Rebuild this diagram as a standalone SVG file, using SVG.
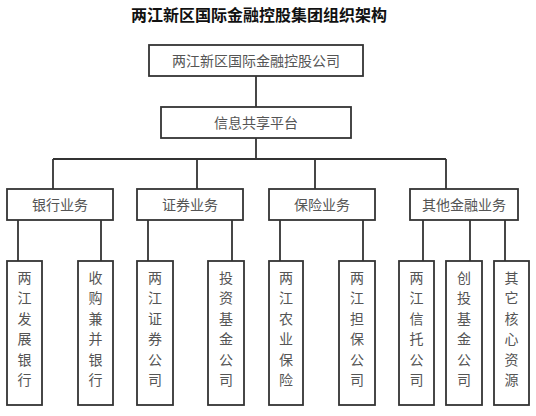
<svg xmlns="http://www.w3.org/2000/svg" width="536" height="416" viewBox="0 0 536 416">
<style>
.box{fill:#fff;stroke:#333;stroke-width:1.8}
.ln{fill:none;stroke:#333;stroke-width:1.8}
.t{font-family:"Liberation Serif","Noto Sans CJK SC",serif;font-size:14px;fill:#555;text-anchor:middle}
.title{font-family:"Liberation Sans","Noto Sans CJK SC",sans-serif;font-size:16px;font-weight:bold;fill:#111;text-anchor:middle}
</style>
<rect width="536" height="416" fill="#fff"/>
<text class="title" x="259" y="21">两江新区国际金融控股集团组织架构</text>
<g id="connectors">
<path class="ln" d="M256 76V107M256 138V159M53 159H446M53 159V189M197 159V189M315 159V189M446 159V189"/>
<path class="ln" d="M18 220V261M101 220V261M148 220V261M232 220V261M280 220V261M363 220V261M423 220V261M470 220V261M505 220V261"/>
</g>
<g id="n-root"><rect class="box" x="149" y="45" width="214" height="31"/><text class="t" x="256" y="66">两江新区国际金融控股公司</text></g>
<g id="n-platform"><rect class="box" x="161" y="107" width="190" height="31"/><text class="t" x="256" y="127.5">信息共享平台</text></g>
<g id="n-bank"><rect class="box" x="7" y="189" width="106" height="31"/><text class="t" x="60" y="210">银行业务</text></g>
<g id="n-sec"><rect class="box" x="137" y="189" width="106" height="31"/><text class="t" x="190" y="210">证券业务</text></g>
<g id="n-ins"><rect class="box" x="269" y="189" width="106" height="31"/><text class="t" x="322" y="210">保险业务</text></g>
<g id="n-other"><rect class="box" x="410" y="189" width="108" height="31"/><text class="t" x="464" y="210">其他金融业务</text></g>
<g id="l1"><rect class="box" x="7" y="261" width="35" height="144"/><text class="t" x="24.5" y="283"><tspan x="24.5">两</tspan><tspan x="24.5" dy="20.4">江</tspan><tspan x="24.5" dy="20.4">发</tspan><tspan x="24.5" dy="20.4">展</tspan><tspan x="24.5" dy="20.4">银</tspan><tspan x="24.5" dy="20.4">行</tspan></text></g>
<g id="l2"><rect class="box" x="78" y="261" width="35" height="144"/><text class="t" x="95.5" y="283"><tspan x="95.5">收</tspan><tspan x="95.5" dy="20.4">购</tspan><tspan x="95.5" dy="20.4">兼</tspan><tspan x="95.5" dy="20.4">并</tspan><tspan x="95.5" dy="20.4">银</tspan><tspan x="95.5" dy="20.4">行</tspan></text></g>
<g id="l3"><rect class="box" x="137" y="261" width="36" height="144"/><text class="t" x="155" y="283"><tspan x="155">两</tspan><tspan x="155" dy="20.4">江</tspan><tspan x="155" dy="20.4">证</tspan><tspan x="155" dy="20.4">券</tspan><tspan x="155" dy="20.4">公</tspan><tspan x="155" dy="20.4">司</tspan></text></g>
<g id="l4"><rect class="box" x="208" y="261" width="36" height="144"/><text class="t" x="226" y="283"><tspan x="226">投</tspan><tspan x="226" dy="20.4">资</tspan><tspan x="226" dy="20.4">基</tspan><tspan x="226" dy="20.4">金</tspan><tspan x="226" dy="20.4">公</tspan><tspan x="226" dy="20.4">司</tspan></text></g>
<g id="l5"><rect class="box" x="269" y="261" width="34" height="144"/><text class="t" x="286" y="283"><tspan x="286">两</tspan><tspan x="286" dy="20.4">江</tspan><tspan x="286" dy="20.4">农</tspan><tspan x="286" dy="20.4">业</tspan><tspan x="286" dy="20.4">保</tspan><tspan x="286" dy="20.4">险</tspan></text></g>
<g id="l6"><rect class="box" x="339" y="261" width="36" height="144"/><text class="t" x="357" y="283"><tspan x="357">两</tspan><tspan x="357" dy="20.4">江</tspan><tspan x="357" dy="20.4">担</tspan><tspan x="357" dy="20.4">保</tspan><tspan x="357" dy="20.4">公</tspan><tspan x="357" dy="20.4">司</tspan></text></g>
<g id="l7"><rect class="box" x="399" y="261" width="35" height="144"/><text class="t" x="416.5" y="283"><tspan x="416.5">两</tspan><tspan x="416.5" dy="20.4">江</tspan><tspan x="416.5" dy="20.4">信</tspan><tspan x="416.5" dy="20.4">托</tspan><tspan x="416.5" dy="20.4">公</tspan><tspan x="416.5" dy="20.4">司</tspan></text></g>
<g id="l8"><rect class="box" x="446" y="261" width="36" height="144"/><text class="t" x="464" y="283"><tspan x="464">创</tspan><tspan x="464" dy="20.4">投</tspan><tspan x="464" dy="20.4">基</tspan><tspan x="464" dy="20.4">金</tspan><tspan x="464" dy="20.4">公</tspan><tspan x="464" dy="20.4">司</tspan></text></g>
<g id="l9"><rect class="box" x="494" y="261" width="35" height="144"/><text class="t" x="511.5" y="283"><tspan x="511.5">其</tspan><tspan x="511.5" dy="20.4">它</tspan><tspan x="511.5" dy="20.4">核</tspan><tspan x="511.5" dy="20.4">心</tspan><tspan x="511.5" dy="20.4">资</tspan><tspan x="511.5" dy="20.4">源</tspan></text></g>
</svg>
